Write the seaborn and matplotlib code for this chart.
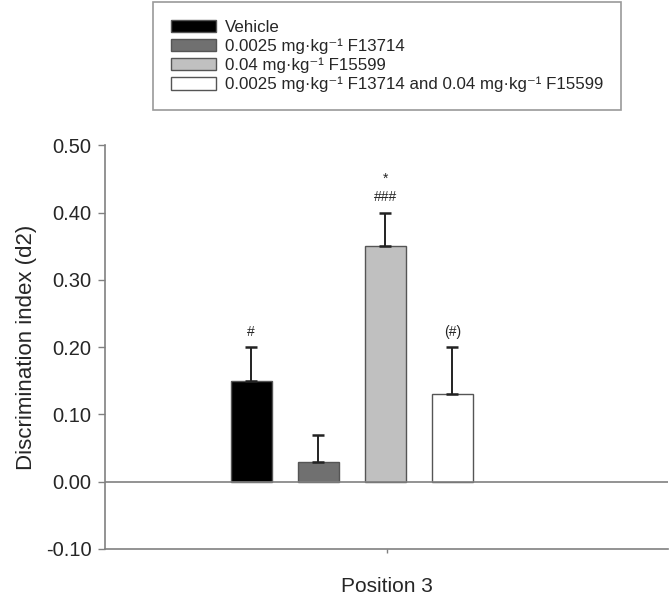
import numpy as np
import pandas as pd
import matplotlib
matplotlib.use("Agg")
import matplotlib.pyplot as plt
import seaborn as sns

groups = ["Vehicle",
          "0.0025 mg·kg⁻¹ F13714",
          "0.04 mg·kg⁻¹ F15599",
          "0.0025 mg·kg⁻¹ F13714 and 0.04 mg·kg⁻¹ F15599"]
means = [0.15, 0.03, 0.35, 0.13]
sems = [0.05, 0.04, 0.05, 0.07]
marks = ["#", "", "*\n###", "(#)"]
colors = ["#000000", "#707070", "#c0c0c0", "#ffffff"]

sns.set_style("white")
plt.rcParams["font.family"] = ["Liberation Sans", "DejaVu Sans"]

df = pd.DataFrame({"group": groups, "d2": means})

fig = plt.figure(figsize=(6.7, 6.0), dpi=100)
ax = fig.add_axes([0.157, 0.085, 0.84, 0.673])

sns.barplot(data=df, x="group", y="d2", hue="group", palette=colors,
            width=0.61, edgecolor="#555555", linewidth=1.0,
            errorbar=None, legend=False, ax=ax)

xs = np.arange(len(groups))
ax.errorbar(xs, means, yerr=[np.zeros(len(sems)), sems], fmt="none",
            ecolor="#222222", elinewidth=1.4, capsize=4.5, capthick=1.8)

for x, m, s, t in zip(xs, means, sems, marks):
    if t:
        ax.text(x, m + s + 0.012, t, ha="center", va="bottom",
                fontsize=10, linespacing=1.4)

ax.axhline(0, color="#808080", lw=1.2)
ax.set_ylim(-0.10, 0.50)
ticks = np.arange(-0.10, 0.51, 0.10)
ax.set_yticks(ticks)
ax.set_yticklabels([f"{v:.2f}" for v in ticks])
ax.set_xlim(-2.18, 6.22)
ax.set_xticks([2.02])
ax.set_xticklabels(["Position 3"])
ax.set_xlabel("")
ax.set_ylabel("Discrimination index (d2)", fontsize=16, labelpad=6)
ax.tick_params(axis="y", direction="out", length=5, width=1, color="#808080",
               labelsize=14.5, left=True, pad=5)
ax.tick_params(axis="x", direction="out", length=3, width=1, color="#808080",
               labelsize=15, bottom=True, pad=17)
sns.despine(ax=ax)
for sp in ["left", "bottom"]:
    ax.spines[sp].set_color("#808080")
    ax.spines[sp].set_linewidth(1.2)

handles = [plt.Rectangle((0, 0), 1, 1, facecolor=c, edgecolor="#555555")
           for c in colors]
leg = fig.legend(handles, groups, loc="upper left",
                 bbox_to_anchor=(0.228, 0.997), fontsize=12.2, frameon=True,
                 fancybox=False, edgecolor="#808080", handlelength=2.7,
                 handleheight=0.75, labelspacing=0.22, borderpad=1.05,
                 handletextpad=0.5, borderaxespad=0)
leg.get_frame().set_linewidth(1.2)

fig.savefig("out.png", dpi=100)
